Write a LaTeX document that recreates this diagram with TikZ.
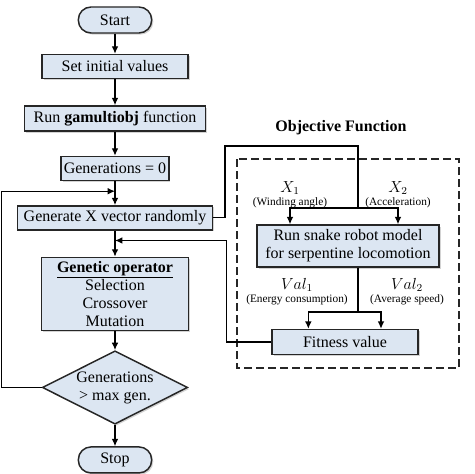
\documentclass[tikz,border=0pt]{standalone}
\usepackage{fontspec}
\setmainfont{Liberation Serif}
\usetikzlibrary{shapes.geometric,arrows.meta,positioning,shadows,calc}
\definecolor{boxfill}{HTML}{DCE6F2}
\definecolor{boxline}{HTML}{262626}

\begin{document}
\begin{tikzpicture}[
    x=0.75pt, y=-0.75pt,
    >={Latex[length=5.5pt,width=5pt]},
    font=\fontsize{12}{13.5}\selectfont,
    box/.style={rectangle, draw=boxline, line width=1.1pt, fill=boxfill, inner sep=2pt, align=center,
        drop shadow={shadow xshift=1.2pt, shadow yshift=-1.2pt, opacity=0.35}},
    term/.style={box, rounded corners=9.5pt, minimum width=55pt, minimum height=19.5pt},
    decide/.style={diamond, draw=boxline, line width=1.1pt, fill=boxfill, aspect=2, inner sep=0pt, align=center,
        minimum width=109pt, minimum height=55pt,
        drop shadow={shadow xshift=1.2pt, shadow yshift=-1.2pt, opacity=0.35}},
    flow/.style={->, line width=0.9pt},
    wire/.style={line width=0.9pt},
    frame/.style={draw=boxline, line width=0.9pt, dash pattern=on 6pt off 3pt},
    title/.style={font=\fontsize{12}{13.5}\selectfont\bfseries},
    lbl/.style={font=\fontsize{8.5}{10}\selectfont, inner sep=0pt},
    var/.style={font=\fontsize{12}{13}\selectfont, inner sep=0pt}
]
    \useasboundingbox (0,0) rectangle (474,474);

    % Main loop
    \node[term] (start) at (115,20) {Start};
    \node[box, minimum width=109.5pt, minimum height=18pt, below=15pt of start] (init) {Set initial values};
    \node[box, minimum width=136pt, minimum height=18.75pt, below=19.5pt of init] (ga) {Run \textbf{gamultiobj} function};
    \node[box, minimum width=80pt, minimum height=18pt, below=18pt of ga] (gen0) {Generations = 0};
    \node[box, minimum width=146pt, minimum height=18pt, below=18pt of gen0] (genx) {Generate X vector randomly};
    \node[box, minimum width=110pt, minimum height=55pt, below=19.5pt of genx] (op) {\underline{\textbf{Genetic operator}}\\Selection\\Crossover\\Mutation};
    \node[decide, below=14pt of op] (maxg) {Generations\\> max gen.};
    \node[term, below=16pt of maxg] (stop) {Stop};

    % Objective function
    \node[title] (objt) at (341,128) {Objective Function};
    \draw[frame] (237,159) rectangle (459,368);
    \node[box, minimum width=136.5pt, minimum height=31.5pt] (snake) at (348,246) {Run snake robot model\\for serpentine locomotion};
    \node[box, minimum width=109.5pt, minimum height=18.75pt] (fitv) at (345,342) {Fitness value};

    % Variables
    \node[var] (x1) at (290,188) {$X_1$};
    \node[lbl, below=1.5pt of x1] (x1t) {(Winding angle)};
    \node[var] (x2) at (398,188) {$X_2$};
    \node[lbl, below=1.5pt of x2] (x2t) {(Acceleration)};
    \node[var] (v1) at (297,285) {$Val_1$};
    \node[lbl, below=1.5pt of v1] (v1t) {(Energy consumption)};
    \node[var] (v2) at (407,285) {$Val_2$};
    \node[lbl, below=1.5pt of v2] (v2t) {(Average speed)};

    % Junctions
    \coordinate (loopin) at ($(gen0.south)!0.42!(genx.north)$);
    \coordinate (back) at ($(genx.south)!0.38!(op.north)$);
    \coordinate (xs) at (358,208);
    \coordinate (vs) at (358,312);

    % Connections
    \draw[flow] (start) -- (init);
    \draw[flow] (init) -- (ga);
    \draw[flow] (ga) -- (gen0);
    \draw[flow] (gen0) -- (genx);
    \draw[flow] (genx) -- (op);
    \draw[flow] (op) -- (maxg);
    \draw[flow] (maxg) -- (stop);
    \draw[flow] (maxg.west) -- ++(-40,0) |- (loopin);
    \draw[wire] (genx.east) -- ++(12,0) |- (358,146) -- (xs);
    \draw[flow] (xs) -| (snake.north -| x1);
    \draw[flow] (xs) -| (snake.north -| x2);
    \draw[wire] ([xshift=7.5pt]snake.south) -- (vs);
    \draw[flow] (vs) -| ([xshift=-27.5pt]fitv.north);
    \draw[flow] (vs) -| ([xshift=27pt]fitv.north);
    \draw[flow] (fitv.west) -- ++(-45,0) |- (back);
\end{tikzpicture}
\end{document}
